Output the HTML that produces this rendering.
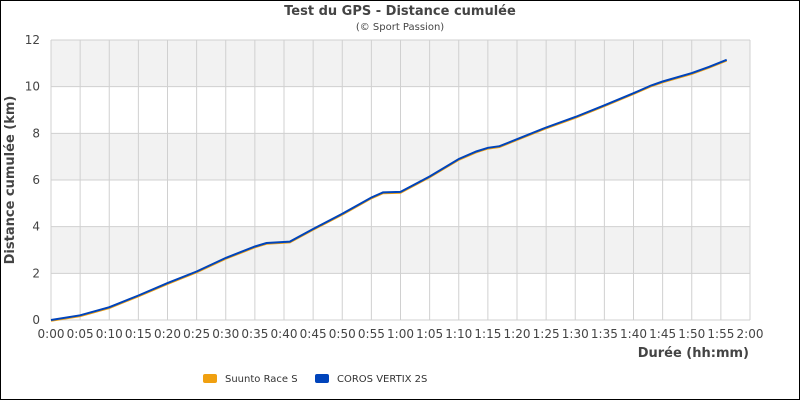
<!DOCTYPE html>
<html><head><meta charset="utf-8"><style>
body{margin:0;background:#fff}
svg{display:block;font-family:"DejaVu Sans","Liberation Sans",sans-serif}
</style></head><body>
<svg id="s" width="800" height="400" xmlns="http://www.w3.org/2000/svg">
<rect x="0.5" y="0.5" width="799" height="399" fill="#fff" stroke="#000"/>
<g id="bands"></g>
<g id="grid" stroke="#d0d0d0" stroke-width="1"></g>
<text x="400" y="15" text-anchor="middle" font-size="13" font-weight="bold" fill="#444">Test du GPS - Distance cumulée</text>
<text x="400" y="30" text-anchor="middle" font-size="10" fill="#444">(© Sport Passion)</text>
<g id="yl" font-size="12" fill="#444" text-anchor="end"></g>
<g id="xl" font-size="12" fill="#444" text-anchor="middle"></g>
<text transform="translate(14,180) rotate(-90)" text-anchor="middle" font-size="13" font-weight="bold" fill="#444">Distance cumulée (km)</text>
<text x="749" y="357" text-anchor="end" font-size="13" font-weight="bold" fill="#444">Durée (hh:mm)</text>
<path id="p1" fill="none" stroke="#f0a010" stroke-width="2"/>
<path id="p2" fill="none" stroke="#0044bb" stroke-width="2"/>
<rect x="203" y="374" width="14" height="9" rx="2" fill="#f0a010"/>
<text x="225" y="382" font-size="10" fill="#333">Suunto Race S</text>
<rect x="315" y="374" width="14" height="9" rx="2" fill="#0044bb"/>
<text x="337" y="382" font-size="10" fill="#333">COROS VERTIX 2S</text>
</svg>
<script>
var ns="http://www.w3.org/2000/svg",X0=51,X1=750,Y0=320,Y1=40;
function el(p,t,a,txt){var e=document.createElementNS(ns,t);for(var k in a)e.setAttribute(k,a[k]);if(txt)e.textContent=txt;document.getElementById(p).appendChild(e);}
var kx=(X1-X0)/120,ky=(Y0-Y1)/12;
for(var i=0;i<6;i++){if(i%2==1)el("bands","rect",{x:X0,y:Y0-(i*2+2)*ky,width:X1-X0,height:2*ky,fill:"#f2f2f2"});}
for(var v=0;v<=12;v+=2){var y=Y0-v*ky;el("grid","line",{x1:X0,x2:X1,y1:y,y2:y});el("yl","text",{x:40,y:y+4},""+v);}
for(var m=0;m<=120;m+=5){var x=X0+m*kx;el("grid","line",{x1:x,x2:x,y1:Y1,y2:Y0});var h=Math.floor(m/60),mm=m%60;el("xl","text",{x:x,y:338},h+":"+(mm<10?"0":"")+mm);}
var d=[[0,0],[5,0.2],[10,0.55],[15,1.05],[20,1.58],[25,2.08],[30,2.66],[35,3.15],[37,3.3],[41,3.36],[45,3.9],[50,4.55],[55,5.25],[57,5.47],[60,5.49],[65,6.15],[70,6.9],[73,7.22],[75,7.38],[77,7.45],[80,7.75],[85,8.25],[90,8.7],[95,9.2],[100,9.72],[103,10.05],[105,10.22],[110,10.58],[113,10.85],[116,11.15]];
function path(dx,dy){return d.map(function(p,i){return(i?"L":"M")+(X0+p[0]*kx+dx).toFixed(1)+","+(Y0-p[1]*ky+dy).toFixed(1)}).join("");}
document.getElementById("p1").setAttribute("d",path(0,0.8));
document.getElementById("p2").setAttribute("d",path(0,0));
</script>
</body></html>
